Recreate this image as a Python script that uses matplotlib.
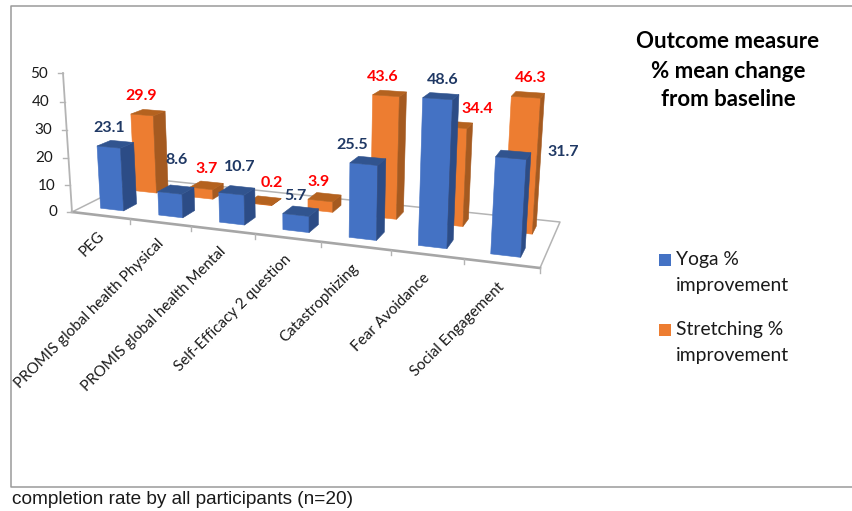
#!/usr/bin/python
import matplotlib
matplotlib.use('Agg')
import matplotlib.pyplot as plt
from matplotlib.patches import Polygon, Rectangle
import numpy as np

categories = ['PEG', 'PROMIS global health Physical', 'PROMIS global health Mental',
              'Self-Efficacy 2 question', 'Catastrophizing', 'Fear Avoidance', 'Social Engagement']
yoga = [23.1, 8.6, 10.7, 5.7, 25.5, 48.6, 31.7]
stretching = [29.9, 3.7, 0.2, 3.9, 43.6, 34.4, 46.3]
z_ticks = [0, 10, 20, 30, 40, 50]

# label centres in figure pixels
yoga_label_xy = [(109, 128), (177, 160), (240, 167), (295, 196), (352, 145), (443, 80), (563, 152)]
stretch_label_xy = [(141, 96), (207, 169), (272, 183), (319, 182), (383, 77), (477, 109), (531, 78)]

# floor corners: front-left, front-right, back-right, back-left
FLOOR = [(72, 212), (540, 268), (560, 222), (140, 178)]
VANISH = (310.0, 3880.0)   # where the verticals meet
Z_TOP = 73.0               # pixel height of the 50 tick on the front-left edge
Z_MAX = 50.0

BLUE = ('#4472C4', '#2C4C86', '#31548F')    # front, side, top
ORANGE = ('#ED7D31', '#A55A20', '#B4621F')
GREY = '#A6A6A6'
LIGHT = '#B4B4B4'
NAVY = '#1F3864'
BODY = 'Lato'
INK = '#1A1A1A'


def floor_homography():
    # unit square to floor corners
    src = [(0, 0), (1, 0), (1, 1), (0, 1)]
    A = []
    b = []
    for (u, v), (x, y) in zip(src, FLOOR):
        A.append([u, v, 1, 0, 0, 0, -u*x, -v*x])
        A.append([0, 0, 0, u, v, 1, -u*y, -v*y])
        b += [x, y]
    h = np.linalg.solve(np.array(A, float), np.array(b, float))
    return np.append(h, 1.0).reshape(3, 3)


H = floor_homography()
x0, y0 = FLOOR[0]
k = (Z_TOP - y0) / (Z_MAX * (VANISH[1] - Z_TOP))
P3 = np.array([VANISH[0], VANISH[1], 1.0]) * k * Z_MAX


def project(cat, depth, val=0.0):
    # cat runs 0..7 along the front, depth 0..1 front to back, val is the z value
    p = H @ np.array([cat / len(categories), depth, 1.0]) + P3 * (val / Z_MAX)
    return p[0] / p[2], p[1] / p[2]


def draw_bar(ax, cat, row, val, colors, order):
    xa, xb = cat + 0.30, cat + 0.70
    ya, yb = row * 0.5 + 0.155, row * 0.5 + 0.345
    faces = [
        ([(xa, ya, 0), (xb, ya, 0), (xb, ya, val), (xa, ya, val)], colors[0]),
        ([(xb, ya, 0), (xb, yb, 0), (xb, yb, val), (xb, ya, val)], colors[1]),
        ([(xa, ya, val), (xb, ya, val), (xb, yb, val), (xa, yb, val)], colors[2]),
    ]
    for pts, c in faces:
        ax.add_patch(Polygon([project(*q) for q in pts], closed=True, facecolor=c,
                             edgecolor=c, linewidth=0.4, zorder=order))


fig = plt.figure(figsize=(8.52, 5.11), dpi=100)
ax = fig.add_axes([0, 0, 1, 1])
ax.set_xlim(0, 852)
ax.set_ylim(511, 0)
ax.axis('off')

# outer frame
ax.plot([852, 11, 11, 852], [6.5, 6.5, 487.5, 487.5], color='#9A9A9A', lw=1.1, zorder=1)

# floor outline
corners = [project(0, 0), project(7, 0), project(7, 1), project(0, 1), project(0, 0)]
ax.plot(*zip(*corners[1:]), color=LIGHT, lw=1.1, zorder=2)
ax.plot(*zip(*corners[:2]), color=GREY, lw=1.9, zorder=2)

# value axis
ax.plot(*zip(project(0, 0, 0), project(0, 0, 50)), color=LIGHT, lw=1.3, zorder=2)
for v in z_ticks:
    px, py = project(0, 0, v)
    ax.plot([px - 5, px], [py, py], color=LIGHT, lw=1.0, zorder=2)
    ax.text(px - 15, py + 0.5, str(v), ha='right', va='center', fontsize=11,
            family=BODY, color=INK)

# category ticks and labels
for i, name in enumerate(categories):
    px, py = project(i + 1, 0)
    ax.plot([px, px], [py, py + 5], color=LIGHT, lw=1.0, zorder=2)
    px, py = project(i + 0.5, 0)
    ax.text(px - 4, py + 13 + 0.6 * i, name, rotation=45, rotation_mode='anchor', ha='right',
            va='top', fontsize=10.9, family=BODY, color=INK)

# bars, back row first
for i, val in enumerate(stretching):
    draw_bar(ax, i, 1, val, ORANGE, 3 + i * 0.01)
for i, val in enumerate(yoga):
    draw_bar(ax, i, 0, val, BLUE, 4 + i * 0.01)

for val, (px, py) in zip(yoga, yoga_label_xy):
    ax.text(px, py, '%.1f' % val, ha='center', va='center', fontsize=11.5,
            fontweight='bold', family=BODY, color=NAVY, zorder=6)
for val, (px, py) in zip(stretching, stretch_label_xy):
    ax.text(px, py, '%.1f' % val, ha='center', va='center', fontsize=11.5,
            fontweight='bold', family=BODY, color='#FF0000', zorder=6)

# heading
for line, py in zip(['Outcome measure', '% mean change', 'from baseline'], [42, 71, 100]):
    ax.text(728, py, line, ha='center', va='center', fontsize=16, fontweight='bold',
            family=BODY, color='black')

# legend
ax.add_patch(Rectangle((659, 254), 12, 12, facecolor=BLUE[0], edgecolor='none'))
ax.add_patch(Rectangle((659, 324), 12, 12, facecolor=ORANGE[0], edgecolor='none'))
for line, py in zip(['Yoga %', 'improvement', 'Stretching %', 'improvement'], [260, 285, 330, 355]):
    ax.text(676, py, line, ha='left', va='center', fontsize=13.9, family=BODY, color=INK)

ax.text(12, 499, 'completion rate by all participants (n=20)', ha='left', va='center',
        fontsize=13.65, family='Liberation Sans', color=INK)

fig.savefig('out.png', dpi=100)
